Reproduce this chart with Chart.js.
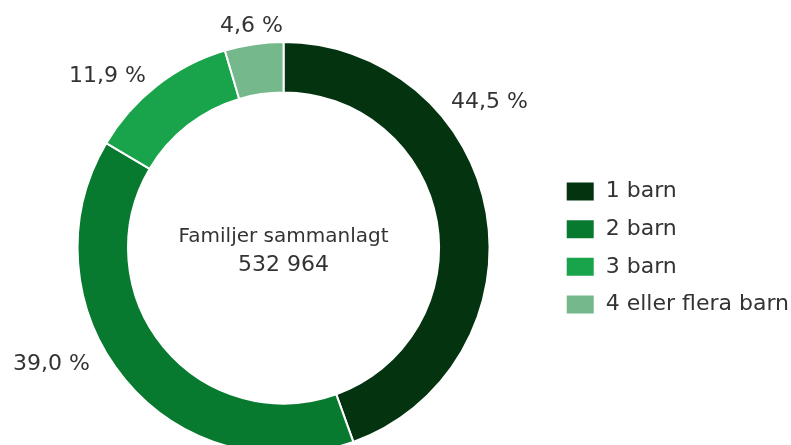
<!DOCTYPE html>
<html>
<head>
<meta charset="utf-8">
<script src="https://cdn.jsdelivr.net/npm/chart.js@4"></script>
<style>
  html, body { margin: 0; padding: 0; background: #fff; overflow: hidden; }
  #wrap { width: 791px; height: 470px; position: relative; }
</style>
</head>
<body>
<div id="wrap"><canvas id="chart"></canvas></div>
<script>
// family sizes, share of all families with children
const categories = ["1 barn", "2 barn", "3 barn", "4 eller flera barn"];
const shares = [44.5, 39.0, 11.9, 4.6];
const shareLabels = ["44,5 %", "39,0 %", "11,9 %", "4,6 %"];
const colors = ["#03340f", "#077a2f", "#19a34a", "#74b88b"];
const centerTitle = "Familjer sammanlagt";
const centerTotal = "532 964";

const FONT = "'DejaVu Sans', sans-serif";
const TEXT = "#333333";

// percent labels: baseline offset from the ring centre (text is centred on x)
const labelSpots = [[206, -140], [-232, 122], [-176, -166], [-32, -216]];

const extraText = {
  id: "extraText",
  afterDraw(chart) {
    const ctx = chart.ctx;
    const arc = chart.getDatasetMeta(0).data[0];
    if (!arc) return;
    const cx = arc.x, cy = arc.y;
    ctx.save();
    ctx.fillStyle = TEXT;
    ctx.textAlign = "center";
    ctx.textBaseline = "alphabetic";
    ctx.font = "20px " + FONT;
    ctx.fillText(centerTitle, cx, cy - 6);
    ctx.font = "22px " + FONT;
    ctx.fillText(centerTotal, cx, cy + 23);

    shareLabels.forEach((txt, i) => {
      ctx.fillText(txt, cx + labelSpots[i][0], cy + labelSpots[i][1]);
    });
    ctx.restore();
  }
};

new Chart(document.getElementById("chart"), {
  type: "doughnut",
  data: {
    labels: categories,
    datasets: [{
      data: shares,
      backgroundColor: colors,
      borderColor: "#ffffff",
      borderWidth: 2
    }]
  },
  options: {
    responsive: true,
    maintainAspectRatio: false,
    animation: false,
    cutout: "75.5%",
    layout: { padding: { top: 41, bottom: 15, left: 17, right: -8 } },
    plugins: {
      tooltip: { enabled: false },
      legend: {
        position: "right",
        labels: {
          boxWidth: 29,
          boxHeight: 20,
          padding: 15.6,
          color: TEXT,
          font: { family: FONT, size: 22 }
        }
      }
    }
  },
  plugins: [extraText]
});
</script>
</body>
</html>
